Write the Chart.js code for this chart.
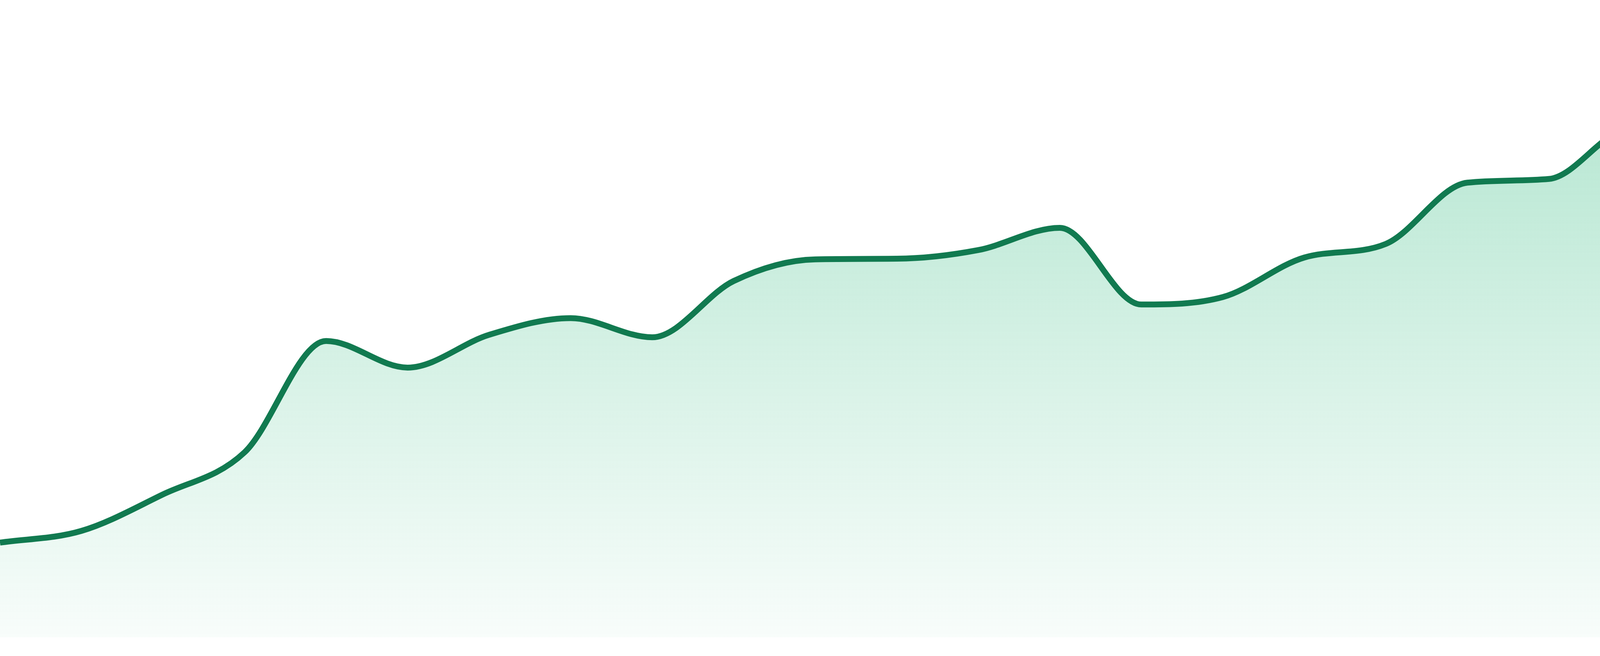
<!DOCTYPE html>
<html>
<head>
<meta charset="utf-8">
<script src="https://cdn.jsdelivr.net/npm/chart.js@4/dist/chart.umd.min.js"></script>
<style>
  html, body { margin: 0; padding: 0; background: #ffffff; overflow: hidden; }
  #wrap { width: 4800px; height: 1680px; position: relative; }
</style>
</head>
<body>
<div id="wrap"><canvas id="c"></canvas></div>
<script>
const labels = ["1","2","3","4","5","6","7","8","9","10","11","12","13","14","15","16","17","18","19","20","21","22","23","24"];
const values = [15.3, 17.2, 23.1, 29.9, 47.9, 43.6, 48.9, 51.6, 48.5, 57.6, 61.1, 61.2, 62.6, 66.2, 53.8, 55.0, 61.4, 63.6, 73.5, 74.1, 82.2, 78.9, 85.6, 90.3];
const yMin = 0;
const yMax = 100;

const lineColor = "#117a50";

function areaGradient(context) {
  const chart = context.chart;
  const area = chart.chartArea;
  if (!area) return "rgba(30,180,115,0.2)";
  const g = chart.ctx.createLinearGradient(0, area.top, 0, area.bottom);
  g.addColorStop(0, "rgba(30,180,115,0.37)");
  g.addColorStop(1, "rgba(30,180,115,0.03)");
  return g;
}

new Chart(document.getElementById("c"), {
  type: "line",
  data: {
    labels: labels,
    datasets: [{
      data: values,
      borderColor: lineColor,
      borderWidth: 15,
      backgroundColor: areaGradient,
      fill: "start",
      pointRadius: 0,
      pointHoverRadius: 0,
      cubicInterpolationMode: "monotone"
    }]
  },
  options: {
    responsive: true,
    maintainAspectRatio: false,
    devicePixelRatio: 1,
    animation: false,
    layout: { padding: { top: 48, bottom: 48, left: 0, right: 0 } },
    plugins: { legend: { display: false }, tooltip: { enabled: false } },
    scales: {
      x: { display: false, offset: false },
      y: { display: false, min: yMin, max: yMax }
    }
  }
});
</script>
</body>
</html>
